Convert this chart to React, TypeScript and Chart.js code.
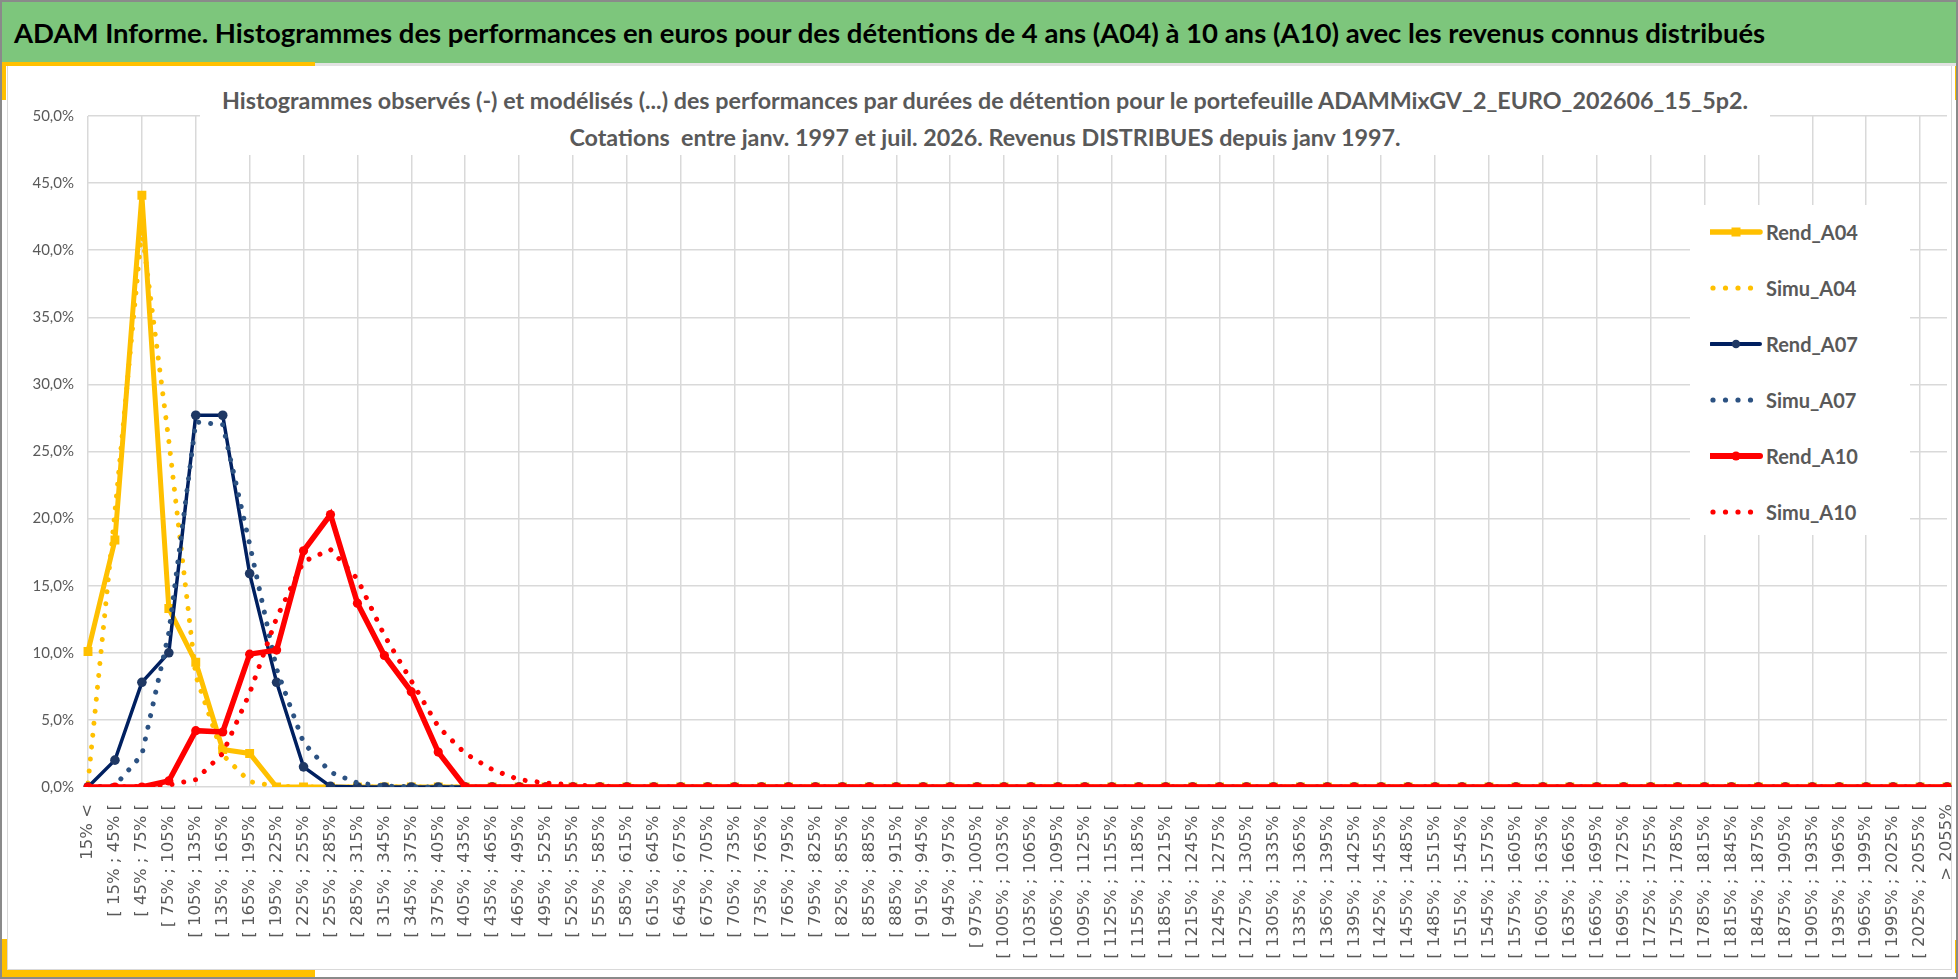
import React, { useEffect, useRef } from "react";
import { Chart, registerables } from "chart.js";

Chart.register(...registerables);

// ---------- Texts ----------
const HEADER_TEXT =
  "ADAM Informe. Histogrammes des performances en euros pour des détentions de 4 ans (A04) à 10 ans (A10) avec les revenus connus distribués";
const TITLE_LINE_1 =
  "Histogrammes observés (-) et modélisés (...) des performances par durées de détention pour le portefeuille ADAMMixGV_2_EURO_202606_15_5p2.";
const TITLE_LINE_2 =
  "Cotations  entre janv. 1997 et juil. 2026. Revenus DISTRIBUES depuis janv 1997.";

// ---------- Categories (x tick labels) ----------
const CATEGORIES = [
  "15% <",
  "[ 15% ; 45% [",
  "[ 45% ; 75% [",
  "[ 75% ; 105% [",
  "[ 105% ; 135% [",
  "[ 135% ; 165% [",
  "[ 165% ; 195% [",
  "[ 195% ; 225% [",
  "[ 225% ; 255% [",
  "[ 255% ; 285% [",
  "[ 285% ; 315% [",
  "[ 315% ; 345% [",
  "[ 345% ; 375% [",
  "[ 375% ; 405% [",
  "[ 405% ; 435% [",
  "[ 435% ; 465% [",
  "[ 465% ; 495% [",
  "[ 495% ; 525% [",
  "[ 525% ; 555% [",
  "[ 555% ; 585% [",
  "[ 585% ; 615% [",
  "[ 615% ; 645% [",
  "[ 645% ; 675% [",
  "[ 675% ; 705% [",
  "[ 705% ; 735% [",
  "[ 735% ; 765% [",
  "[ 765% ; 795% [",
  "[ 795% ; 825% [",
  "[ 825% ; 855% [",
  "[ 855% ; 885% [",
  "[ 885% ; 915% [",
  "[ 915% ; 945% [",
  "[ 945% ; 975% [",
  "[ 975% ; 1005% [",
  "[ 1005% ; 1035% [",
  "[ 1035% ; 1065% [",
  "[ 1065% ; 1095% [",
  "[ 1095% ; 1125% [",
  "[ 1125% ; 1155% [",
  "[ 1155% ; 1185% [",
  "[ 1185% ; 1215% [",
  "[ 1215% ; 1245% [",
  "[ 1245% ; 1275% [",
  "[ 1275% ; 1305% [",
  "[ 1305% ; 1335% [",
  "[ 1335% ; 1365% [",
  "[ 1365% ; 1395% [",
  "[ 1395% ; 1425% [",
  "[ 1425% ; 1455% [",
  "[ 1455% ; 1485% [",
  "[ 1485% ; 1515% [",
  "[ 1515% ; 1545% [",
  "[ 1545% ; 1575% [",
  "[ 1575% ; 1605% [",
  "[ 1605% ; 1635% [",
  "[ 1635% ; 1665% [",
  "[ 1665% ; 1695% [",
  "[ 1695% ; 1725% [",
  "[ 1725% ; 1755% [",
  "[ 1755% ; 1785% [",
  "[ 1785% ; 1815% [",
  "[ 1815% ; 1845% [",
  "[ 1845% ; 1875% [",
  "[ 1875% ; 1905% [",
  "[ 1905% ; 1935% [",
  "[ 1935% ; 1965% [",
  "[ 1965% ; 1995% [",
  "[ 1995% ; 2025% [",
  "[ 2025% ; 2055% [",
  "> 2055%",
];

// ---------- Series (values in %) ----------
const SERIES_NAMES = ["Rend_A04", "Simu_A04", "Rend_A07", "Simu_A07", "Rend_A10", "Simu_A10"];

const REND_A04 = [
  10.1, 18.4, 44.1, 13.3, 9.3, 2.8, 2.5, 0, 0, 0,
  0, 0, 0, 0, 0, 0, 0, 0, 0, 0,
  0, 0, 0, 0, 0, 0, 0, 0, 0, 0,
  0, 0, 0, 0, 0, 0, 0, 0, 0, 0,
  0, 0, 0, 0, 0, 0, 0, 0, 0, 0,
  0, 0, 0, 0, 0, 0, 0, 0, 0, 0,
  0, 0, 0, 0, 0, 0, 0, 0, 0, 0,
];

const SIMU_A04 = [
  0.3, 20.5, 41.5, 25.8, 8.3, 2.4, 0.4, 0.05, 0, 0,
  0, 0, 0, 0, 0, 0, 0, 0, 0, 0,
  0, 0, 0, 0, 0, 0, 0, 0, 0, 0,
  0, 0, 0, 0, 0, 0, 0, 0, 0, 0,
  0, 0, 0, 0, 0, 0, 0, 0, 0, 0,
  0, 0, 0, 0, 0, 0, 0, 0, 0, 0,
  0, 0, 0, 0, 0, 0, 0, 0, 0, 0,
];

const REND_A07 = [
  0, 2.0, 7.8, 10.0, 27.7, 27.7, 15.9, 7.8, 1.5, 0.05,
  0, 0, 0, 0, 0, 0, 0, 0, 0, 0,
  0, 0, 0, 0, 0, 0, 0, 0, 0, 0,
  0, 0, 0, 0, 0, 0, 0, 0, 0, 0,
  0, 0, 0, 0, 0, 0, 0, 0, 0, 0,
  0, 0, 0, 0, 0, 0, 0, 0, 0, 0,
  0, 0, 0, 0, 0, 0, 0, 0, 0, 0,
];

const SIMU_A07 = [
  0, 0.1, 2.4, 11.5, 27.2, 27.0, 18.1, 8.8, 3.3, 1.1,
  0.3, 0.08, 0.02, 0, 0, 0, 0, 0, 0, 0,
  0, 0, 0, 0, 0, 0, 0, 0, 0, 0,
  0, 0, 0, 0, 0, 0, 0, 0, 0, 0,
  0, 0, 0, 0, 0, 0, 0, 0, 0, 0,
  0, 0, 0, 0, 0, 0, 0, 0, 0, 0,
  0, 0, 0, 0, 0, 0, 0, 0, 0, 0,
];

const REND_A10 = [
  0, 0, 0, 0.45, 4.2, 4.1, 9.9, 10.2, 17.6, 20.3,
  13.7, 9.8, 7.1, 2.6, 0, 0, 0, 0, 0, 0,
  0, 0, 0, 0, 0, 0, 0, 0, 0, 0,
  0, 0, 0, 0, 0, 0, 0, 0, 0, 0,
  0, 0, 0, 0, 0, 0, 0, 0, 0, 0,
  0, 0, 0, 0, 0, 0, 0, 0, 0, 0,
  0, 0, 0, 0, 0, 0, 0, 0, 0, 0,
];

const SIMU_A10 = [
  0, 0, 0.05, 0.15, 0.55, 2.5, 7.0, 12.6, 16.8, 17.7,
  15.5, 11.3, 7.9, 4.5, 2.5, 1.3, 0.55, 0.3, 0.15, 0.06,
  0.02, 0, 0, 0, 0, 0, 0, 0, 0, 0,
  0, 0, 0, 0, 0, 0, 0, 0, 0, 0,
  0, 0, 0, 0, 0, 0, 0, 0, 0, 0,
  0, 0, 0, 0, 0, 0, 0, 0, 0, 0,
  0, 0, 0, 0, 0, 0, 0, 0, 0, 0,
];

// y axis range (in %)
const Y_MIN = 0;
const Y_MAX = 50;
const Y_STEP = 5;

// ---------- Styles ----------
const GREEN = "#7dc67c";
const YELLOW = "#FFC000";
const NAVY = "#002060";
const NAVY_MARKER = "#1f3864";
const BLUE_DOT = "#2c5282";
const RED = "#FF0000";
const GRID = "#d9d9d9";
const TEXT_GRAY = "#595959";
const DOT_DASH = [0.01, 12];

type LegendItem = {
  label: string;
  color: string;
  kind: "solid" | "dots";
  marker?: "square" | "circle";
  lineWidth?: number;
  markerSize?: number;
  markerColor?: string;
};

const LEGEND_ITEMS: LegendItem[] = [
  { label: SERIES_NAMES[0], color: YELLOW, kind: "solid", marker: "square", lineWidth: 5.5, markerSize: 9 },
  { label: SERIES_NAMES[1], color: YELLOW, kind: "dots" },
  { label: SERIES_NAMES[2], color: NAVY, kind: "solid", marker: "circle", lineWidth: 4, markerSize: 8.5, markerColor: NAVY_MARKER },
  { label: SERIES_NAMES[3], color: BLUE_DOT, kind: "dots" },
  { label: SERIES_NAMES[4], color: RED, kind: "solid", marker: "circle", lineWidth: 6, markerSize: 9 },
  { label: SERIES_NAMES[5], color: RED, kind: "dots" },
];

function formatPct(v: number): string {
  return v.toFixed(1).replace(".", ",") + "%";
}

function LegendSample({ item }: { item: LegendItem }) {
  const w = 54;
  const h = 20;
  const cy = h / 2;
  if (item.kind === "dots") {
    const xs = [3, 15.5, 28, 40.5];
    return (
      <svg width={w} height={h} style={{ display: "block" }}>
        {xs.map((x, i) => (
          <circle key={i} cx={x} cy={cy} r={2.6} fill={item.color} />
        ))}
      </svg>
    );
  }
  const mc = item.markerColor || item.color;
  const s = item.markerSize || 9;
  return (
    <svg width={w} height={h} style={{ display: "block" }}>
      <line x1={1} y1={cy} x2={50} y2={cy} stroke={item.color} strokeWidth={item.lineWidth} strokeLinecap="round" />
      {item.marker === "square" ? (
        <rect x={26 - s / 2} y={cy - s / 2} width={s} height={s} fill={mc} />
      ) : (
        <circle cx={26} cy={cy} r={s / 2} fill={mc} />
      )}
    </svg>
  );
}

export default function App() {
  const canvasRef = useRef<HTMLCanvasElement | null>(null);

  useEffect(() => {
    const canvas = canvasRef.current;
    if (!canvas) return;

    const dotted = (label: string, data: number[], color: string, order: number) => ({
      label,
      data,
      borderColor: color,
      backgroundColor: color,
      borderWidth: 5,
      borderDash: DOT_DASH,
      borderCapStyle: "round" as const,
      pointRadius: 0,
      pointHoverRadius: 0,
      tension: 0,
      order,
    });

    const chart = new Chart(canvas, {
      type: "line",
      data: {
        labels: CATEGORIES,
        datasets: [
          {
            label: SERIES_NAMES[0],
            data: REND_A04,
            borderColor: YELLOW,
            backgroundColor: YELLOW,
            borderWidth: 5,
            pointStyle: "rect",
            pointRadius: 6.3,
            pointBorderWidth: 0,
            pointBackgroundColor: YELLOW,
            tension: 0,
            order: 6,
          },
          dotted(SERIES_NAMES[1], SIMU_A04, YELLOW, 5),
          {
            label: SERIES_NAMES[2],
            data: REND_A07,
            borderColor: NAVY,
            backgroundColor: NAVY_MARKER,
            borderWidth: 3.5,
            pointStyle: "circle",
            pointRadius: 4.8,
            pointBorderWidth: 0,
            pointBackgroundColor: NAVY_MARKER,
            tension: 0,
            order: 4,
          },
          dotted(SERIES_NAMES[3], SIMU_A07, BLUE_DOT, 3),
          {
            label: SERIES_NAMES[4],
            data: REND_A10,
            borderColor: RED,
            backgroundColor: RED,
            borderWidth: 5.5,
            pointStyle: "circle",
            pointRadius: 4.6,
            pointBorderWidth: 0,
            pointBackgroundColor: RED,
            tension: 0,
            order: 2,
          },
          dotted(SERIES_NAMES[5], SIMU_A10, RED, 1),
        ] as any,
      },
      options: {
        animation: false,
        responsive: false,
        maintainAspectRatio: false,
        events: [],
        layout: { padding: { top: 16, right: 10, bottom: 0, left: 0 } },
        plugins: {
          legend: { display: false },
          tooltip: { enabled: false },
          title: { display: false },
        },
        scales: {
          x: {
            type: "category",
            offset: false,
            border: { display: false },
            grid: {
              drawTicks: false,
              lineWidth: 1.5,
              color: (ctx: any) => (ctx.index % 2 === 0 ? GRID : "rgba(0,0,0,0)"),
            },
            ticks: {
              autoSkip: false,
              minRotation: 90,
              maxRotation: 90,
              padding: 17,
              color: TEXT_GRAY,
              font: { family: "'DejaVu Sans', sans-serif", size: 16.5 },
            },
            afterFit: (scale: any) => {
              scale.height = 181;
              scale.paddingLeft = 0;
              scale.paddingRight = 0;
            },
          },
          y: {
            min: Y_MIN,
            max: Y_MAX,
            border: { display: false },
            grid: { drawTicks: false, lineWidth: 1.5, color: GRID },
            ticks: {
              stepSize: Y_STEP,
              padding: 14,
              color: TEXT_GRAY,
              font: { family: "Lato, sans-serif", size: 15 },
              callback: (v: any) => formatPct(Number(v)),
            },
            afterFit: (scale: any) => {
              scale.width = 80;
              scale.paddingTop = 0;
              scale.paddingBottom = 0;
            },
          },
        },
      } as any,
    });

    return () => chart.destroy();
  }, []);

  const rowY = (i: number) => 232 + 56 * i;

  return (
    <div
      style={{
        position: "fixed",
        left: 0,
        top: 0,
        width: 1958,
        height: 979,
        background: "#ffffff",
        overflow: "hidden",
        fontFamily: "Lato, 'Open Sans', sans-serif",
      }}
    >
      {/* inner light frame */}
      <div
        style={{
          position: "absolute",
          left: 7,
          top: 64,
          width: 1945,
          height: 906,
          border: `1px solid ${GRID}`,
          boxSizing: "border-box",
        }}
      />

      {/* chart canvas */}
      <canvas
        ref={canvasRef}
        width={1949}
        height={868}
        style={{ position: "absolute", left: 8, top: 100, width: 1949, height: 868 }}
      />

      {/* chart title */}
      <div
        style={{
          position: "absolute",
          left: 200,
          top: 82,
          width: 1570,
          height: 73,
          background: "#ffffff",
          color: TEXT_GRAY,
          fontWeight: 700,
          fontSize: 23.3,
          lineHeight: "37px",
          textAlign: "center",
          whiteSpace: "pre",
        }}
      >
        <div>{TITLE_LINE_1}</div>
        <div>{TITLE_LINE_2}</div>
      </div>

      {/* legend */}
      <div
        style={{
          position: "absolute",
          left: 1690,
          top: 205,
          width: 220,
          height: 330,
          background: "#ffffff",
        }}
      />
      {LEGEND_ITEMS.map((item, i) => (
        <React.Fragment key={item.label}>
          <div style={{ position: "absolute", left: 1710, top: rowY(i) - 10 }}>
            <LegendSample item={item} />
          </div>
          <div
            style={{
              position: "absolute",
              left: 1766,
              top: rowY(i) - 15,
              height: 30,
              lineHeight: "30px",
              fontSize: 20,
              fontWeight: 700,
              color: TEXT_GRAY,
              whiteSpace: "nowrap",
            }}
          >
            {item.label}
          </div>
        </React.Fragment>
      ))}

      {/* green header */}
      <div
        style={{
          position: "absolute",
          left: 0,
          top: 0,
          width: 1958,
          height: 63,
          background: GREEN,
        }}
      >
        <div
          style={{
            position: "absolute",
            left: 14,
            top: 1,
            height: 63,
            lineHeight: "63px",
            fontSize: 27.5,
            fontWeight: 700,
            color: "#000000",
            whiteSpace: "nowrap",
          }}
        >
          {HEADER_TEXT}
        </div>
      </div>

      {/* separator under header */}
      <div style={{ position: "absolute", left: 0, top: 63, width: 1958, height: 3, background: "#e2e2e2" }} />
      <div style={{ position: "absolute", left: 0, top: 62, width: 315, height: 4, background: YELLOW }} />
      {/* yellow corner accents */}
      <div style={{ position: "absolute", left: 0, top: 62, width: 6, height: 38, background: YELLOW }} />
      <div style={{ position: "absolute", left: 1955, top: 66, width: 3, height: 34, background: YELLOW }} />
      <div style={{ position: "absolute", left: 0, top: 939, width: 7, height: 40, background: YELLOW }} />
      <div style={{ position: "absolute", left: 0, top: 970, width: 315, height: 9, background: YELLOW }} />
      <div style={{ position: "absolute", left: 1955, top: 940, width: 3, height: 33, background: YELLOW }} />

      {/* outer border */}
      <div
        style={{
          position: "absolute",
          left: 0,
          top: 0,
          width: 1958,
          height: 979,
          border: "2px solid #8a8a8a",
          boxSizing: "border-box",
          pointerEvents: "none",
        }}
      />
    </div>
  );
}
